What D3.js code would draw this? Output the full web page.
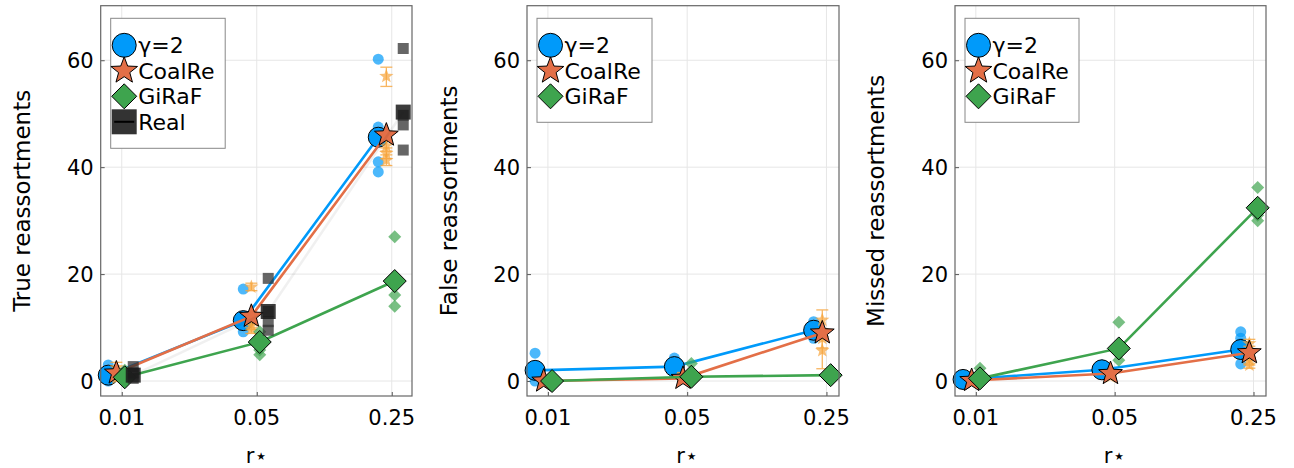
<!DOCTYPE html>
<html>
<head>
<meta charset="utf-8">
<script src="https://cdn.jsdelivr.net/npm/d3@7"></script>
<style>
  body { margin: 0; background: #fff; }
  svg { display: block; font-family: "DejaVu Sans", sans-serif; }
</style>
</head>
<body>
<div id="chart"></div>
<script>
// Categories and ticks
const rLabels = ["0.01", "0.05", "0.25"];
const yTicks = [0, 20, 40, 60];
const seriesNames = ["γ=2", "CoalRe", "GiRaF", "Real"];

// True reassortments
const trueMeanGamma = [1.1, 11.3, 45.6];
const trueMeanCoal = [1.5, 12.1, 46.0];
const trueMeanGiraf = [0.7, 7.3, 18.7];
const trueMeanReal = [1.1, 13.0, 50.3];
const trueRepGamma = [[3, 0.5, 0], [17.2, 11, 9.2], [60.2, 47.5, 41, 39.1]];
const trueRepCoal = [[2.5, 0.5], [17.6, 10.5, 9.7], [57, 44, 42.6, 41.3]];
const trueRepCoalLo = [[1.5, 0], [16.9, 9.6, 8.9], [55.1, 43, 41.6, 40.3]];
const trueRepCoalHi = [[3.5, 1.5], [18.3, 11.4, 10.5], [58.7, 45.2, 43.6, 42.3]];
const trueRepGiraf = [[2, 1], [9.2, 5.8, 4.9], [27, 16.1, 14]];
const trueRepReal = [[2.7, 1.5, 0.5], [19.2, 13, 11.1, 9.5], [62.2, 49.7, 47.9, 43.2]];

// False reassortments
const falseMeanGamma = [2.0, 2.7, 9.5];
const falseMeanCoal = [0, 0.5, 9.0];
const falseMeanGiraf = [0, 0.8, 1.1];
const falseRepGamma = [[5.2, 1, 0], [4.3, 3, 2], [11.1, 9.2, 8]];
const falseRepCoal = [[0], [0.5, 1], [11.4, 8, 5.7]];
const falseRepCoalLo = [[0], [0, 0.3], [9.5, 6.2, 2.3]];
const falseRepCoalHi = [[0.5], [1, 1.6], [13.3, 9.8, 9]];
const falseRepGiraf = [[0, 0.5], [3.3, 0.5], [1, 1.5]];

// Missed reassortments
const missedMeanGamma = [0.3, 2.1, 5.9];
const missedMeanCoal = [0.1, 1.4, 5.3];
const missedMeanGiraf = [0.5, 6.1, 32.4];
const missedRepGamma = [[0.5, 0], [2.5, 1.5, 3], [9.2, 8, 7, 3.2]];
const missedRepCoal = [[0], [1.5, 0.8], [7, 5.5, 4, 3]];
const missedRepCoalLo = [[0], [1, 0.3], [6, 4.5, 3, 2.4]];
const missedRepCoalHi = [[0.5], [2, 1.3], [7.8, 6.5, 5, 3.8]];
const missedRepGiraf = [[2.4, 0], [11, 3.9], [36.2, 30, 31]];

// Styles
const colors = { gamma: "#009AFA", coal: "#E36F47", giraf: "#3EA44E", real: "#1a1a1a" };
const coalLight = "#F7A43A";

const makeSeries = (mean, rep, lo, hi, key, shape, name) => ({
  mean, rep, lo, hi, key, shape, name,
});

const panels = [
  {
    left: 100.7, right: 412, xDomain: [-0.156, 2.15],
    label: "True reassortments", labelX: 22,
    offsets: [-0.1, -0.04, 0.022, 0.085],
    legend: { x: 110.7, y: 18.3, w: 114.5, h: 130 },
    series: [
      makeSeries(trueMeanGamma, trueRepGamma, null, null, "gamma", "circle", seriesNames[0]),
      makeSeries(trueMeanCoal, trueRepCoal, trueRepCoalLo, trueRepCoalHi, "coal", "star", seriesNames[1]),
      makeSeries(trueMeanGiraf, trueRepGiraf, null, null, "giraf", "diamond", seriesNames[2]),
      makeSeries(trueMeanReal, trueRepReal, null, null, "real", "square", seriesNames[3]),
    ],
  },
  {
    left: 527, right: 839, xDomain: [-0.15, 2.09],
    label: "False reassortments", labelX: 449,
    offsets: [-0.092, -0.03, 0.03],
    legend: { x: 537, y: 18.3, w: 115, h: 104 },
    series: [
      makeSeries(falseMeanGamma, falseRepGamma, null, null, "gamma", "circle", seriesNames[0]),
      makeSeries(falseMeanCoal, falseRepCoal, falseRepCoalLo, falseRepCoalHi, "coal", "star", seriesNames[1]),
      makeSeries(falseMeanGiraf, falseRepGiraf, null, null, "giraf", "diamond", seriesNames[2]),
    ],
  },
  {
    left: 955, right: 1266, xDomain: [-0.15, 2.09],
    label: "Missed reassortments", labelX: 876,
    offsets: [-0.092, -0.03, 0.03],
    legend: { x: 965, y: 18.3, w: 114, h: 104 },
    series: [
      makeSeries(missedMeanGamma, missedRepGamma, null, null, "gamma", "circle", seriesNames[0]),
      makeSeries(missedMeanCoal, missedRepCoal, missedRepCoalLo, missedRepCoalHi, "coal", "star", seriesNames[1]),
      makeSeries(missedMeanGiraf, missedRepGiraf, null, null, "giraf", "diamond", seriesNames[2]),
    ],
  },
];

// Marker path centred on 0,0
const shapePath = (shape, r) => {
  if (shape === "circle") {
    const p = d3.path();
    p.arc(0, 0, r, 0, 2 * Math.PI);
    return p.toString();
  }
  if (shape === "diamond") return `M0,${-r}L${r},0L0,${r}L${-r},0Z`;
  if (shape === "square") return `M${-r},${-r}h${2 * r}v${2 * r}h${-2 * r}Z`;
  // star
  const pts = [];
  for (let i = 0; i < 10; i++) {
    const rad = i % 2 === 0 ? r : r * 0.42;
    const a = -Math.PI / 2 + (i * Math.PI) / 5;
    pts.push([rad * Math.cos(a), rad * Math.sin(a)]);
  }
  return "M" + pts.map((p) => p.join(",")).join("L") + "Z";
};

const meanSize = { circle: 10, star: 12.5, diamond: 11.5, square: 7.5 };
const repSize = { circle: 5.5, star: 7.5, diamond: 6.5, square: 5.5 };
const legendSize = { circle: 12, star: 14, diamond: 12.5, square: 12.5 };

const svg = d3.select("#chart").append("svg").attr("width", 1294).attr("height", 468);

const plotTop = 5.7;
const plotBottom = 396;
const yScale = d3.scaleLinear().domain([-2.8, 70.2]).range([plotBottom, plotTop]);

for (const panel of panels) {
  const xScale = d3.scaleLinear().domain(panel.xDomain).range([panel.left, panel.right]);
  const g = svg.append("g");

  // Grid
  g.append("g")
    .selectAll("line")
    .data(yTicks)
    .enter()
    .append("line")
    .attr("x1", panel.left).attr("x2", panel.right)
    .attr("y1", (d) => yScale(d)).attr("y2", (d) => yScale(d))
    .attr("stroke", "#e6e6e6").attr("stroke-width", 1);
  g.append("g")
    .selectAll("line")
    .data(rLabels)
    .enter()
    .append("line")
    .attr("x1", (d, i) => xScale(i)).attr("x2", (d, i) => xScale(i))
    .attr("y1", plotTop).attr("y2", plotBottom)
    .attr("stroke", "#e6e6e6").attr("stroke-width", 1);

  // Axes (ticks inward, labels drawn separately)
  const yAxis = d3.axisLeft(yScale).tickValues(yTicks).tickSize(-4).tickFormat("");
  g.append("g").attr("transform", `translate(${panel.left},0)`).call(yAxis)
    .call((s) => s.select(".domain").remove())
    .selectAll("line").attr("stroke", "#555");
  const xAxis = d3.axisBottom(xScale).tickValues([0, 1, 2]).tickSize(-4).tickFormat("");
  g.append("g").attr("transform", `translate(0,${plotBottom})`).call(xAxis)
    .call((s) => s.select(".domain").remove())
    .selectAll("line").attr("stroke", "#555");

  g.append("g")
    .selectAll("text")
    .data(yTicks)
    .enter()
    .append("text")
    .attr("x", panel.left - 7)
    .attr("y", (d) => yScale(d))
    .attr("dy", "0.36em")
    .attr("text-anchor", "end")
    .attr("font-size", 21)
    .attr("fill", "#000")
    .text((d) => d);
  g.append("g")
    .selectAll("text")
    .data(rLabels)
    .enter()
    .append("text")
    .attr("x", (d, i) => xScale(i))
    .attr("y", 425)
    .attr("text-anchor", "middle")
    .attr("font-size", 21)
    .attr("fill", "#000")
    .text((d) => d);

  // Axis labels
  g.append("text")
    .attr("transform", `translate(${panel.labelX},${(plotTop + plotBottom) / 2}) rotate(-90)`)
    .attr("text-anchor", "middle")
    .attr("dy", "0.36em")
    .attr("font-size", 23)
    .attr("fill", "#000")
    .text(panel.label);
  g.append("text")
    .attr("x", xScale(1))
    .attr("y", 463)
    .attr("text-anchor", "middle")
    .attr("font-size", 21)
    .attr("fill", "#000")
    .text("r⋆");

  // Series
  const line = d3.line().x((d) => d[0]).y((d) => d[1]);
  panel.series.forEach((s, si) => {
    const off = panel.offsets[si];
    const color = colors[s.key];

    // Replicates
    const reps = s.rep.flatMap((vals, i) =>
      vals.map((v, j) => ({
        x: xScale(i + off),
        y: yScale(v),
        lo: s.lo ? yScale(s.lo[i][j]) : null,
        hi: s.hi ? yScale(s.hi[i][j]) : null,
      }))
    );
    if (s.lo) {
      const eb = g.append("g").attr("stroke", coalLight).attr("stroke-width", 1.3).attr("opacity", 0.8);
      for (const r of reps) {
        eb.append("line").attr("x1", r.x).attr("x2", r.x).attr("y1", r.lo).attr("y2", r.hi);
        eb.append("line").attr("x1", r.x - 6).attr("x2", r.x + 6).attr("y1", r.lo).attr("y2", r.lo);
        eb.append("line").attr("x1", r.x - 6).attr("x2", r.x + 6).attr("y1", r.hi).attr("y2", r.hi);
      }
    }
    g.append("g")
      .selectAll("path")
      .data(reps)
      .enter()
      .append("path")
      .attr("transform", (d) => `translate(${d.x},${d.y})`)
      .attr("d", shapePath(s.shape, repSize[s.shape]))
      .attr("fill", s.key === "coal" ? coalLight : s.key === "real" ? "#333" : color)
      .attr("opacity", s.key === "real" ? 0.75 : 0.7);

    // Mean line
    const pts = s.mean.map((v, i) => [xScale(i + off), yScale(v)]);
    g.append("path")
      .attr("d", line(pts))
      .attr("fill", "none")
      .attr("stroke", s.key === "real" ? "#000" : color)
      .attr("stroke-width", 2.6)
      .attr("opacity", s.key === "real" ? 0.06 : 1);

    // Mean markers
    g.append("g")
      .selectAll("path")
      .data(pts)
      .enter()
      .append("path")
      .attr("transform", (d) => `translate(${d[0]},${d[1]})`)
      .attr("d", shapePath(s.shape, meanSize[s.shape]))
      .attr("fill", color)
      .attr("fill-opacity", s.key === "real" ? 0.85 : 1)
      .attr("stroke", s.key === "real" ? "none" : "#000")
      .attr("stroke-width", 1);
  });

  // Frame
  g.append("rect")
    .attr("x", panel.left).attr("y", plotTop)
    .attr("width", panel.right - panel.left).attr("height", plotBottom - plotTop)
    .attr("fill", "none").attr("stroke", "#666").attr("stroke-width", 1.2);

  // Legend
  const lg = panel.legend;
  const leg = g.append("g");
  leg.append("rect")
    .attr("x", lg.x).attr("y", lg.y).attr("width", lg.w).attr("height", lg.h)
    .attr("fill", "#fff").attr("stroke", "#888").attr("stroke-width", 1);
  panel.series.forEach((s, si) => {
    const cy = lg.y + 27 + si * 25.5;
    const cx = lg.x + 13.5;
    if (s.key === "real") {
      leg.append("path")
        .attr("transform", `translate(${cx},${cy})`)
        .attr("d", shapePath("square", legendSize.square))
        .attr("fill", "#333");
      leg.append("line")
        .attr("x1", cx - 10).attr("x2", cx + 10).attr("y1", cy).attr("y2", cy)
        .attr("stroke", "#000").attr("stroke-width", 2);
    } else {
      leg.append("path")
        .attr("transform", `translate(${cx},${cy})`)
        .attr("d", shapePath(s.shape, legendSize[s.shape]))
        .attr("fill", colors[s.key])
        .attr("stroke", "#000").attr("stroke-width", 1);
    }
    leg.append("text")
      .attr("x", lg.x + 27.5)
      .attr("y", cy)
      .attr("dy", "0.36em")
      .attr("font-size", 22)
      .attr("fill", "#000")
      .text(s.name);
  });
}
</script>
</body>
</html>
